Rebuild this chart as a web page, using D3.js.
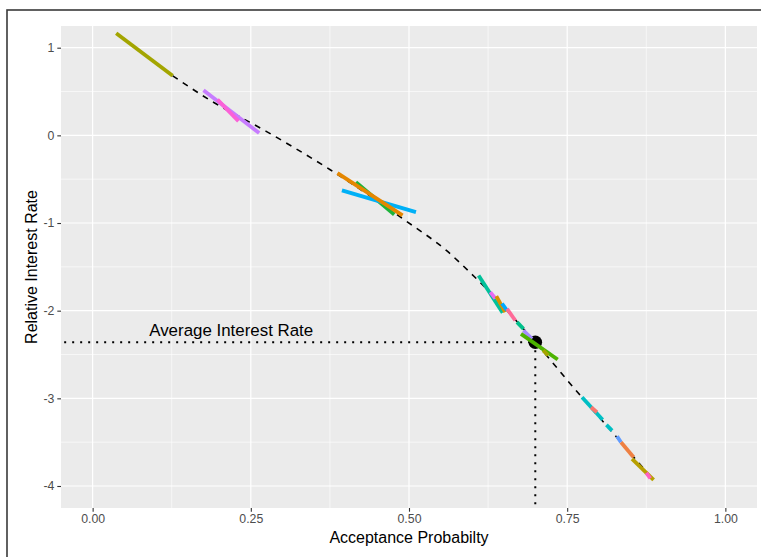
<!DOCTYPE html>
<html>
<head>
<meta charset="utf-8">
<script src="https://cdn.jsdelivr.net/npm/d3@7"></script>
<style>
  body { margin: 0; background: white; }
  svg { display: block; font-family: "Liberation Sans", Arial, sans-serif; }
</style>
</head>
<body>
<div id="container"></div>
<script>
// values
let xTicks = [0, 0.25, 0.5, 0.75, 1];
let yTicks = [-4, -3, -2, -1, 0, 1];
let xMinor = [0.125, 0.375, 0.625, 0.875];
let yMinor = [-3.5, -2.5, -1.5, -0.5, 0.5];

// dashed fitted curve
let curveX = [0.1265, 0.1858, 0.2743, 0.3755, 0.494, 0.559, 0.603, 0.6996, 0.7613, 0.826, 0.886];
let curveY = [0.679, 0.400, 0.046, -0.392, -0.970, -1.313, -1.610, -2.360, -2.888, -3.425, -3.930];

// coloured tangent segments: x1, y1, x2, y2, colour
let segX1 = [0.0372, 0.1752, 0.1973, 0.4161, 0.394, 0.387, 0.61, 0.6285, 0.638, 0.647, 0.655, 0.6707, 0.681, 0.677, 0.712, 0.7735, 0.7877, 0.812, 0.8288, 0.8351, 0.8525, 0.875];
let segY1 = [1.164, 0.514, 0.408, -0.533, -0.628, -0.430, -1.598, -1.789, -1.834, -1.918, -1.978, -2.131, -2.226, -2.264, -2.454, -2.987, -3.102, -3.302, -3.433, -3.501, -3.691, -3.850];
let segX2 = [0.1265, 0.2632, 0.2305, 0.4767, 0.511, 0.4898, 0.648, 0.6364, 0.652, 0.655, 0.668, 0.681, 0.6944, 0.735, 0.720, 0.806, 0.797, 0.821, 0.835, 0.855, 0.8866, 0.8815];
let segY2 = [0.679, 0.026, 0.163, -0.902, -0.876, -0.913, -2.024, -1.861, -2.017, -1.998, -2.112, -2.207, -2.321, -2.557, -2.511, -3.245, -3.159, -3.368, -3.501, -3.672, -3.930, -3.912];
let segColor = ['#A3A500', '#C77CFF', '#FB61D7', '#1DB33A', '#00B0F6', '#E58700', '#00C19A', '#E76BF3', '#D89000', '#00A9FF', '#FF6A98', '#00C08B', '#A58AFF', '#4CB300', '#A3A500', '#00BFC4', '#F8766D', '#00BFC4', '#619CFF', '#EE8043', '#B79F00', '#FF61C3'];

// average point and label
let avgX = 0.6996, avgY = -2.36;
let labelX = 0.219, labelY = -2.285;
let labelText = 'Average Interest Rate';

let w = 761, h = 557;

let viz = d3.select('#container')
    .append('svg')
      .attr('width', w)
      .attr('height', h);

function main() {
    let x = d3.scaleLinear().domain([-0.05, 1.05]).range([61, 757]);
    let y = d3.scaleLinear().domain([-4.251, 1.2475]).range([508, 26]);

    // screenshot frame
    viz.append('rect')
        .attr('x', 7).attr('y', 10)
        .attr('width', 780).attr('height', 580)
        .attr('fill', 'white')
        .attr('stroke', '#3a3a3a')
        .attr('stroke-width', 1.6);

    // panel
    viz.append('rect')
        .attr('x', x(-0.05)).attr('y', y(1.2475))
        .attr('width', x(1.05) - x(-0.05))
        .attr('height', y(-4.251) - y(1.2475))
        .attr('fill', '#EBEBEB');

    let grid = viz.append('g').attr('stroke', 'white');
    grid.selectAll('.xminor').data(xMinor).enter().append('line')
        .attr('x1', d => x(d)).attr('x2', d => x(d))
        .attr('y1', y(1.2475)).attr('y2', y(-4.251))
        .attr('stroke-width', 0.6);
    grid.selectAll('.yminor').data(yMinor).enter().append('line')
        .attr('y1', d => y(d)).attr('y2', d => y(d))
        .attr('x1', x(-0.05)).attr('x2', x(1.05))
        .attr('stroke-width', 0.6);
    grid.selectAll('.xmajor').data(xTicks).enter().append('line')
        .attr('x1', d => x(d)).attr('x2', d => x(d))
        .attr('y1', y(1.2475)).attr('y2', y(-4.251))
        .attr('stroke-width', 1.2);
    grid.selectAll('.ymajor').data(yTicks).enter().append('line')
        .attr('y1', d => y(d)).attr('y2', d => y(d))
        .attr('x1', x(-0.05)).attr('x2', x(1.05))
        .attr('stroke-width', 1.2);

    // axes
    let xAxis = viz.append('g')
        .attr('transform', 'translate(0,' + y(-4.251) + ')')
        .call(d3.axisBottom(x).tickValues(xTicks).tickFormat(d3.format('.2f')).tickSize(3.7).tickPadding(3));
    let yAxis = viz.append('g')
        .attr('transform', 'translate(' + x(-0.05) + ',0)')
        .call(d3.axisLeft(y).tickValues(yTicks).tickFormat(d3.format('d')).tickSize(3.7).tickPadding(3));
    [xAxis, yAxis].forEach(a => {
        a.select('.domain').remove();
        a.selectAll('line').attr('stroke', '#333333').attr('stroke-width', 1.1);
        a.selectAll('text')
            .attr('fill', '#4D4D4D')
            .style('font-size', '12.3px')
            .style('font-family', '"Liberation Sans", Arial, sans-serif');
    });
    yAxis.selectAll('text').text(d => d < 0 ? '-' + Math.abs(d) : d);

    // dotted guides to the average point
    let dotted = viz.append('g')
        .attr('stroke', 'black')
        .attr('stroke-width', 2)
        .attr('stroke-dasharray', '2,6');
    dotted.append('line')
        .attr('x1', x(-0.045)).attr('x2', x(avgX))
        .attr('y1', y(avgY)).attr('y2', y(avgY));
    dotted.append('line')
        .attr('x1', x(avgX)).attr('x2', x(avgX))
        .attr('y1', y(avgY)).attr('y2', y(-4.251));

    // dashed curve
    let pts = curveX.map((d, i) => [d, curveY[i]]);
    viz.append('path')
        .datum(pts)
        .attr('fill', 'none')
        .attr('stroke', 'black')
        .attr('stroke-width', 1.6)
        .attr('stroke-dasharray', '6,6')
        .attr('d', d3.line().x(d => x(d[0])).y(d => y(d[1])).curve(d3.curveMonotoneX));

    // average point
    viz.append('circle')
        .attr('cx', x(avgX)).attr('cy', y(avgY))
        .attr('r', 6.8)
        .attr('fill', 'black');

    // tangent segments
    viz.append('g').selectAll('line')
        .data(segColor)
        .enter().append('line')
          .attr('x1', (d, i) => x(segX1[i]))
          .attr('y1', (d, i) => y(segY1[i]))
          .attr('x2', (d, i) => x(segX2[i]))
          .attr('y2', (d, i) => y(segY2[i]))
          .attr('stroke', d => d)
          .attr('stroke-width', 3.8);

    viz.append('text')
        .attr('x', x(labelX)).attr('y', y(labelY))
        .attr('text-anchor', 'middle')
        .style('font-size', '16.9px')
        .attr('fill', 'black')
        .text(labelText);

    // axis titles
    viz.append('text')
        .attr('x', (x(-0.05) + x(1.05)) / 2).attr('y', 543)
        .attr('text-anchor', 'middle')
        .style('font-size', '16px')
        .text('Acceptance Probabilty');
    viz.append('text')
        .attr('transform', 'translate(37,' + (y(1.2475) + y(-4.251)) / 2 + ') rotate(-90)')
        .attr('text-anchor', 'middle')
        .style('font-size', '16px')
        .text('Relative Interest Rate');
}

main();
</script>
</body>
</html>
